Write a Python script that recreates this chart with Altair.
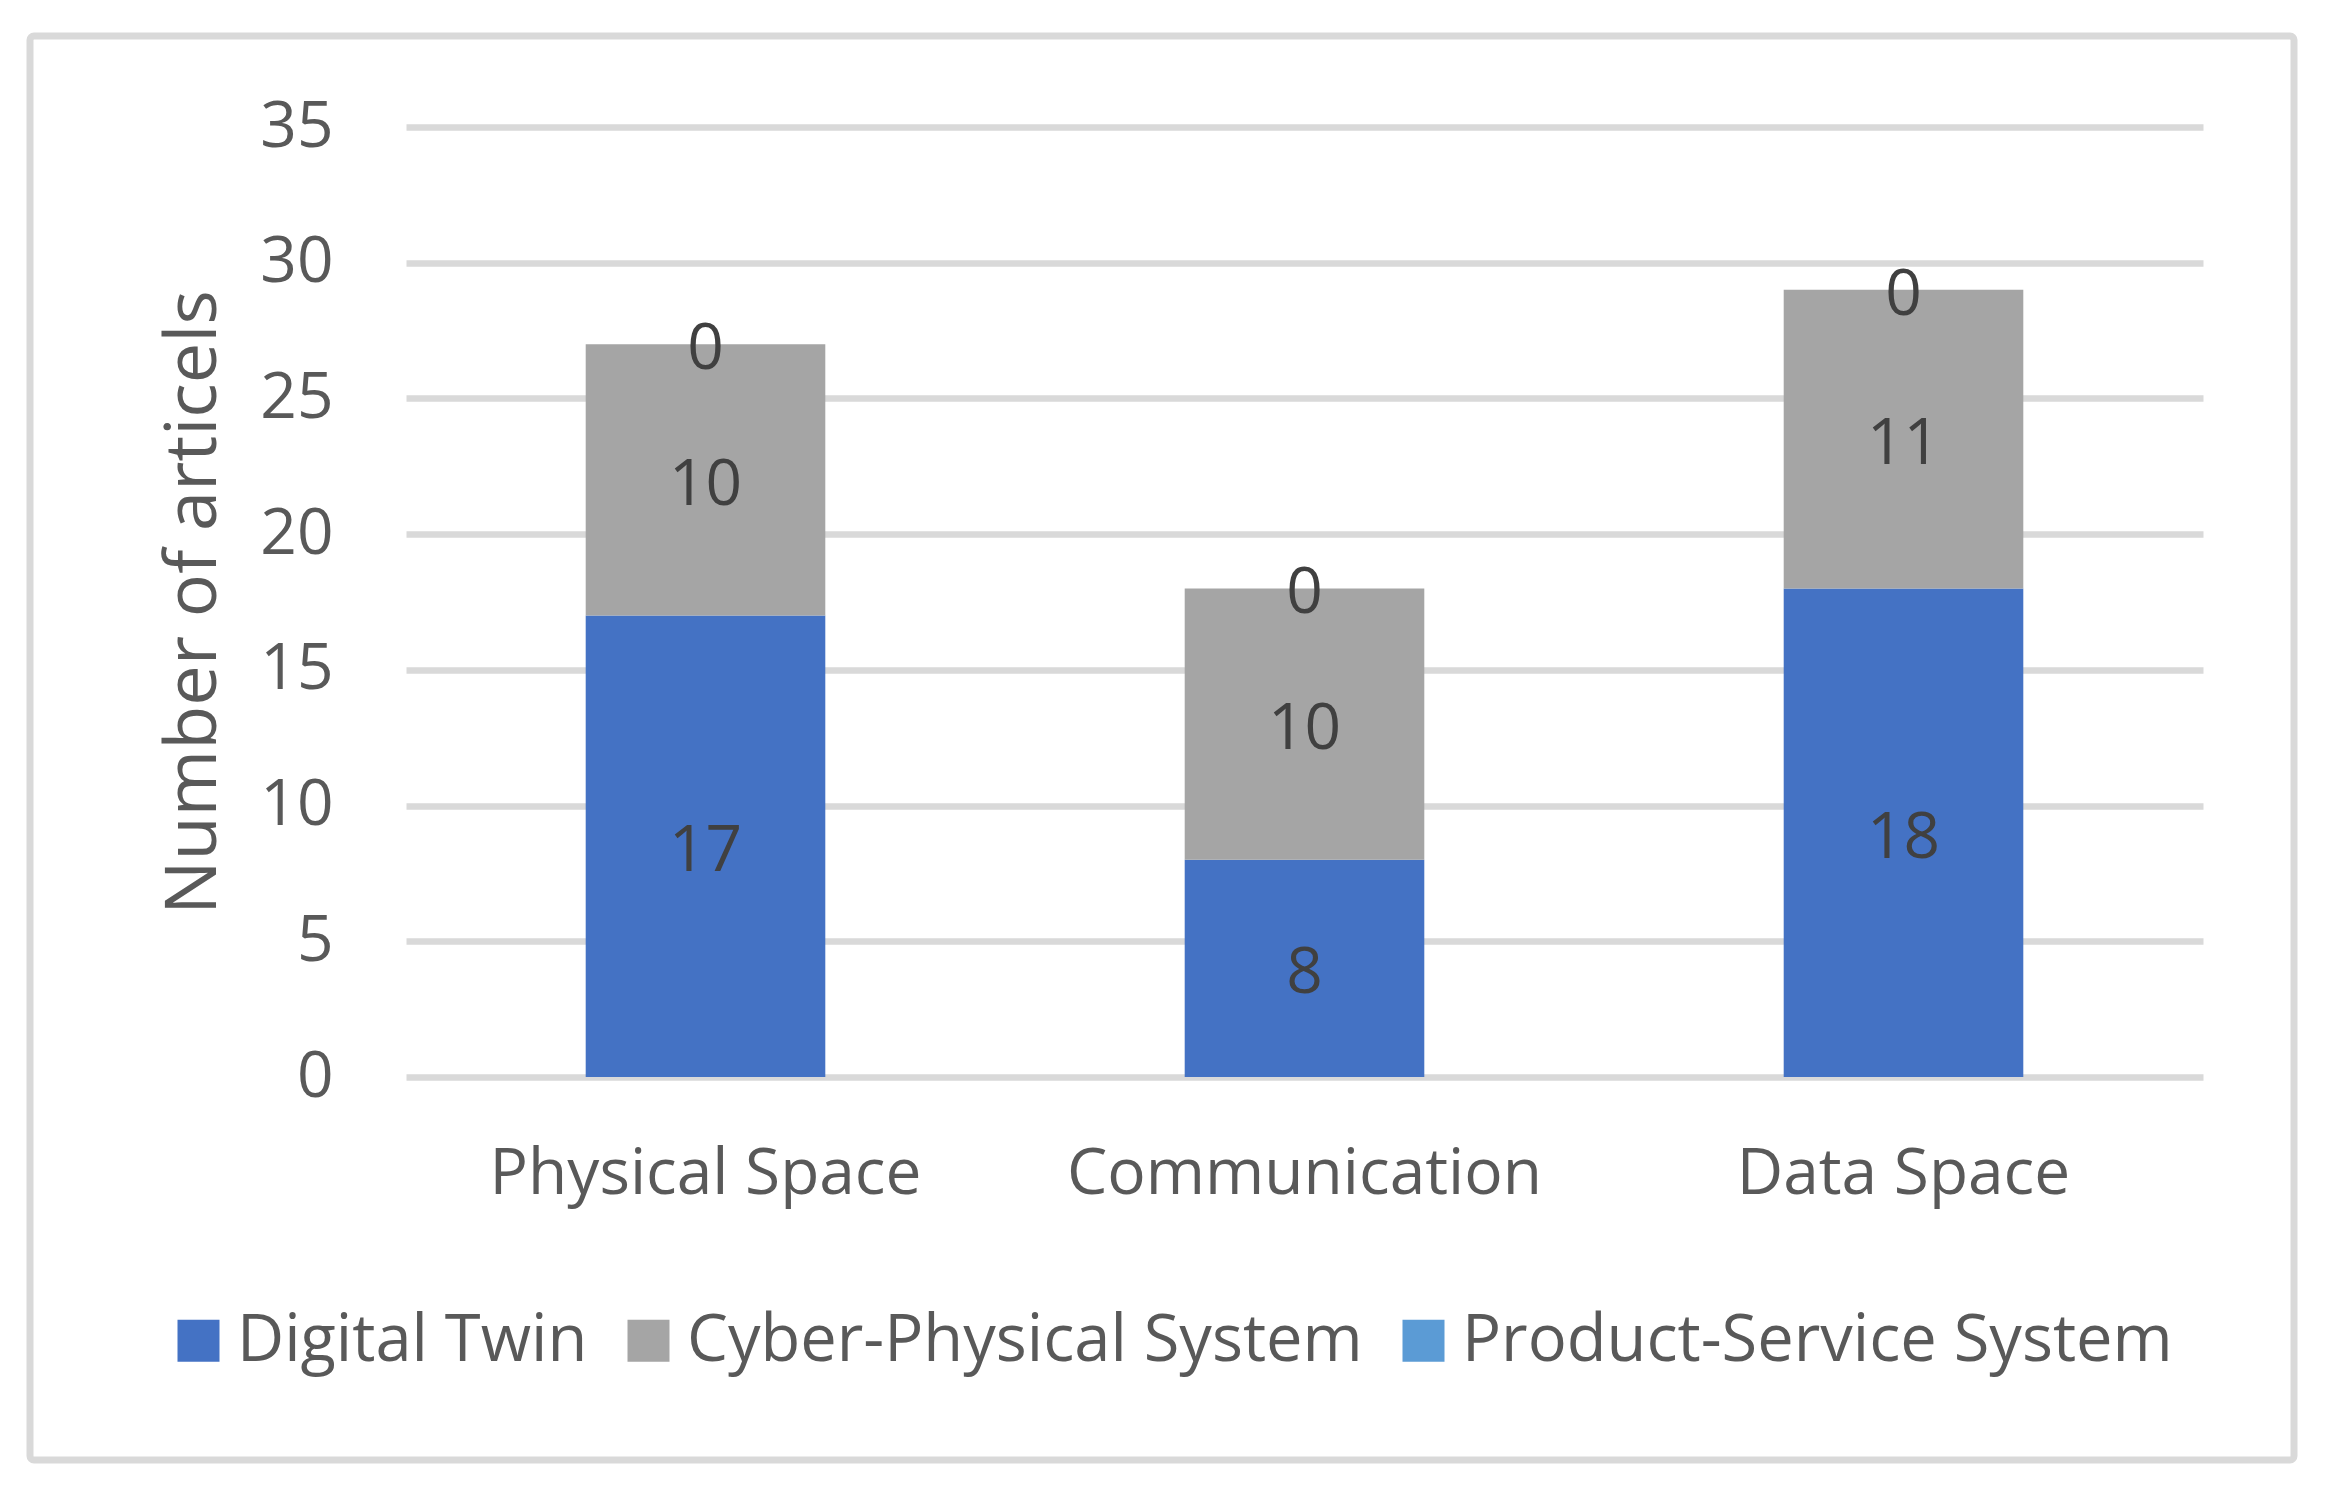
import altair as alt
import pandas as pd

categories = ["Physical Space", "Communication", "Data Space"]
series_names = ["Digital Twin", "Cyber-Physical System", "Product-Service System"]
digital_twin = [17, 8, 18]
cyber_physical = [10, 10, 11]
product_service = [0, 0, 0]
series_colors = ["#4472C4", "#A5A5A5", "#5B9BD5"]
y_ticks = [0, 5, 10, 15, 20, 25, 30, 35]

rows = []
for i, cat in enumerate(categories):
    cum = 0
    for name, vals in zip(series_names, [digital_twin, cyber_physical, product_service]):
        v = vals[i]
        rows.append({"category": cat, "series": name, "value": v,
                     "start": cum, "end": cum + v, "mid": cum + v / 2})
        cum += v
df = pd.DataFrame(rows)

FONT = "Open Sans"
W, H = 1797, 950

x_enc = alt.X("category:N", sort=categories,
              scale=alt.Scale(paddingInner=0.6, paddingOuter=0.3),
              axis=alt.Axis(title=None, labelAngle=0, labelFontSize=64,
                            labelColor="#595959", labelPadding=116,
                            labelBaseline="alphabetic", ticks=False, tickSize=0,
                            domain=False, grid=False, labelFont=FONT,
                            labelLimit=1000))

y_scale = alt.Scale(domain=[0, 35], nice=False, zero=True)

bars = alt.Chart(df).mark_bar().encode(
    x=x_enc,
    y=alt.Y("start:Q", scale=y_scale,
            axis=alt.Axis(values=y_ticks, title="Number of articels",
                          titleFontSize=72, titleColor="#595959",
                          titleFontWeight="normal", titleAngle=270,
                          titleX=-191, titleY=475, titleAlign="center",
                          titleBaseline="alphabetic", titleFont=FONT,
                          labelFontSize=64, labelColor="#595959",
                          labelPadding=73, ticks=False, tickSize=0,
                          domain=False, grid=True, gridColor="#D9D9D9",
                          gridWidth=6.5, labelFont=FONT)),
    y2="end:Q",
    color=alt.Color("series:N",
                    scale=alt.Scale(domain=series_names, range=series_colors),
                    sort=series_names,
                    legend=alt.Legend(title=None, orient="none", direction="horizontal",
                                      legendX=-240, legendY=1181,
                                      symbolType="square", symbolSize=1764,
                                      symbolStrokeWidth=0, symbolOpacity=1,
                                      labelFontSize=65, labelColor="#595959",
                                      labelFont=FONT, labelOffset=6,
                                      columnPadding=28, padding=0,
                                      labelLimit=1000)),
)

labels = alt.Chart(df).mark_text(fontSize=64, color="#404040", font=FONT,
                                 baseline="middle", align="center", dy=6).encode(
    x=alt.X("category:N", sort=categories),
    y=alt.Y("mid:Q", scale=y_scale),
    text=alt.Text("value:Q"),
)

frame = alt.Chart(alt.Data(values=[{"k": 1}])).mark_rect(
    filled=False, stroke="#D9D9D9", strokeWidth=7, cornerRadius=4
).encode(
    x=alt.value(-376), x2=alt.value(1888),
    y=alt.value(-91), y2=alt.value(1333),
)

chart = alt.layer(bars, labels, frame).properties(
    width=W, height=H,
    autosize=alt.AutoSizeParams(type="none"),
    padding={"left": 398, "top": 119, "right": 100, "bottom": 390},
    background="white",
).configure(font=FONT, view=alt.ViewConfig(stroke=None))

chart.save("out.html", embed_options={"renderer": "svg", "actions": False})
